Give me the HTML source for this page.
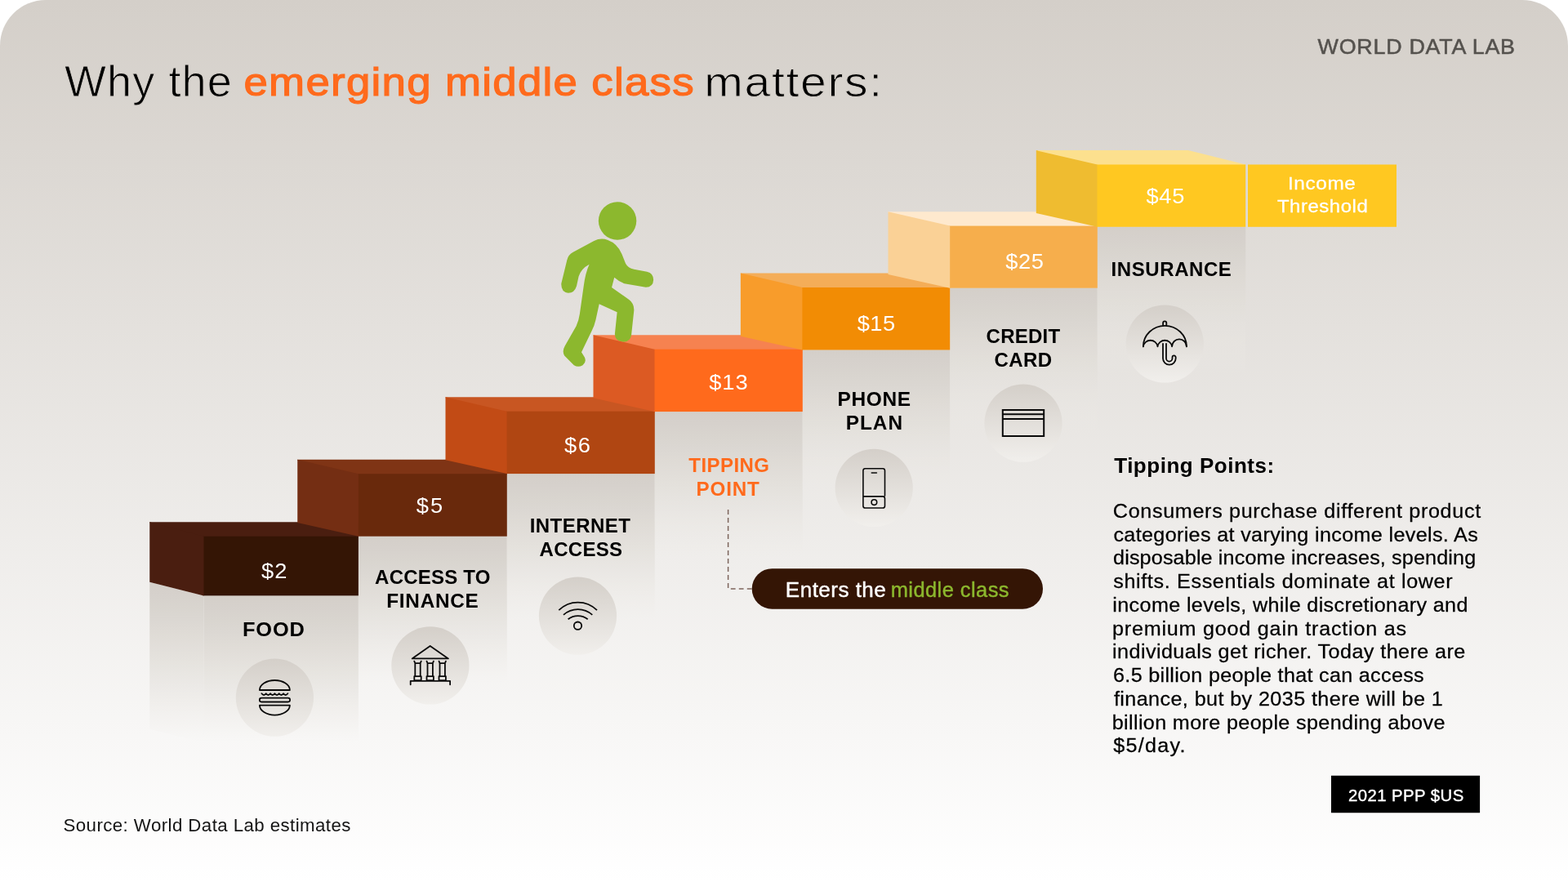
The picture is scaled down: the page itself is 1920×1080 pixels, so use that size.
<!DOCTYPE html>
<html lang="en"><head><meta charset="utf-8"><title>Why the emerging middle class matters</title>
<style>
html,body{margin:0;padding:0;background:#fff;}
body{width:1920px;height:1080px;overflow:hidden;}
svg{display:block;}
text{font-family:"Liberation Sans",sans-serif;white-space:pre;}
</style></head><body>
<svg width="1920" height="1080" viewBox="0 0 1920 1080" role="img" aria-label="Why the emerging middle class matters">
<defs>

<linearGradient id="bg" x1="0" y1="0" x2="0" y2="1"><stop offset="0" stop-color="#d4cfc9"/><stop offset="1" stop-color="#ffffff"/></linearGradient>
<linearGradient id="col" x1="0" y1="0" x2="0" y2="1"><stop offset="0.0000" stop-color="#d4cfc9" stop-opacity="1.0000"/><stop offset="0.0833" stop-color="#d6d1cc" stop-opacity="0.9931"/><stop offset="0.1667" stop-color="#d8d4ce" stop-opacity="0.9722"/><stop offset="0.2500" stop-color="#dad6d1" stop-opacity="0.9375"/><stop offset="0.3333" stop-color="#ddd9d3" stop-opacity="0.8889"/><stop offset="0.4167" stop-color="#dfdbd6" stop-opacity="0.8264"/><stop offset="0.5000" stop-color="#e1ded8" stop-opacity="0.7500"/><stop offset="0.5833" stop-color="#e3e0db" stop-opacity="0.6597"/><stop offset="0.6667" stop-color="#e5e2de" stop-opacity="0.5556"/><stop offset="0.7500" stop-color="#e8e5e0" stop-opacity="0.4375"/><stop offset="0.8333" stop-color="#eae7e3" stop-opacity="0.3056"/><stop offset="0.9167" stop-color="#eceae5" stop-opacity="0.1597"/><stop offset="1.0000" stop-color="#eeece8" stop-opacity="0.0000"/></linearGradient>
<linearGradient id="bgu" gradientUnits="userSpaceOnUse" x1="0" y1="0" x2="0" y2="1080"><stop offset="0" stop-color="#d4cfc9"/><stop offset="1" stop-color="#ffffff"/></linearGradient>
<linearGradient id="circ" x1="0" y1="0" x2="0" y2="1"><stop offset="0" stop-color="#d4cfc9"/><stop offset="1" stop-color="#f1efec"/></linearGradient>
</defs>
<path d="M0,1080 V56 A56,56 0 0 1 56,0 H1864 A56,56 0 0 1 1920,56 V1080 Z" fill="url(#bg)"/>
<polygon points="183.25,712.65 249.5,729.4 249.5,909.4 183.25,892.65" fill="url(#col)"/>
<rect x="249.5" y="729.4" width="189.40" height="180" fill="url(#col)"/>
<rect x="438.9" y="656.75" width="181.90" height="180" fill="url(#col)"/>
<rect x="620.6" y="580.1" width="181.20" height="180" fill="url(#col)"/>
<rect x="801.5" y="504.1" width="181.30" height="180" fill="url(#col)"/>
<rect x="982.4" y="428.5" width="180.80" height="180" fill="url(#col)"/>
<rect x="1163.2" y="352.7" width="180.60" height="180" fill="url(#col)"/>
<rect x="1343.5" y="277.8" width="181.75" height="180" fill="url(#col)"/>
<polygon points="183.25,639.35 367.25,639.35 438.9,653.75 438.9,657.75 249.5,657.75 183.25,640.35" fill="#4a1e10"/>
<rect x="248.5" y="656.75" width="190.40" height="72.65" fill="#341505"/>
<polygon points="183.25,639.35 249.5,656.75 249.5,729.4 183.25,712.65" fill="#4a1e10"/>
<polygon points="364.25,562.80 548.5,562.80 620.8,577.2 620.8,581.2 438.9,581.2 364.25,563.80" fill="#7f3415"/>
<rect x="437.9" y="580.2" width="182.90" height="76.55" fill="#69290c"/>
<polygon points="364.25,562.80 438.9,580.2 438.9,656.75 364.25,640.00" fill="#742e13"/>
<polygon points="545.5,486.30 729.5,486.30 801.8,500.7 801.8,504.7 620.6,504.7 545.5,487.30" fill="#c85622"/>
<rect x="619.6" y="503.7" width="182.20" height="76.40" fill="#b04612"/>
<polygon points="545.5,486.30 620.6,503.7 620.6,580.1 545.5,563.35" fill="#c24b15"/>
<polygon points="726.5,410.30 909.9,410.30 982.8,424.7 982.8,428.7 801.5,428.7 726.5,411.30" fill="#f68250"/>
<rect x="800.5" y="427.7" width="182.30" height="76.40" fill="#ff6a1c"/>
<polygon points="726.5,410.30 801.5,427.7 801.5,504.1 726.5,487.35" fill="#dc5a23"/>
<polygon points="906.9,334.60 1090.5,334.60 1163.2,349.0 1163.2,353.0 982.4,353.0 906.9,335.60" fill="#f4ad58"/>
<rect x="981.4" y="352.0" width="181.80" height="76.50" fill="#f28c04"/>
<polygon points="906.9,334.60 982.4,352.0 982.4,428.5 906.9,411.75" fill="#f89c2b"/>
<polygon points="1087.5,259.20 1271.8,259.20 1343.8,273.6 1343.8,277.6 1163.2,277.6 1087.5,260.20" fill="#fee9ce"/>
<rect x="1162.2" y="276.6" width="181.60" height="76.10" fill="#f6ae4c"/>
<polygon points="1087.5,259.20 1163.2,276.6 1163.2,352.7 1087.5,335.95" fill="#fad196"/>
<polygon points="1268.8,184.10 1455,184.10 1525.25,201.5 1525.25,202.5 1343.5,202.5 1268.8,185.10" fill="#fce08e"/>
<rect x="1342.5" y="201.5" width="182.75" height="76.30" fill="#ffc821"/>
<polygon points="1268.8,184.10 1343.5,201.5 1343.5,277.8 1268.8,261.05" fill="#efbc30"/>
<rect x="1528" y="201.5" width="182" height="76.3" fill="#ffc821"/>
<g fill="#8cb82e" transform="translate(640,230) scale(0.21297)">
<circle cx="545" cy="190" r="109"/>
<path d="M410,305 Q450,285 490,300 Q545,320 570,380 L592,435 Q605,460 640,468 L715,482 Q752,490 752,530 Q750,572 708,572 L585,550 Q555,540 527,515 L512,573 L612,643 Q642,665 640,705 L625,845 Q618,887 578,885 Q530,880 530,840 L543,715 L440,668 L420,760 Q412,795 398,820 L338,945 L355,972 Q370,1000 345,1020 Q320,1035 295,1020 L240,965 Q225,940 243,908 L308,795 Q322,765 328,725 L350,570 Q360,490 383,440 Q335,465 322,510 L310,565 Q298,605 262,605 Q220,600 222,550 L255,415 Q262,385 290,370 Z"/>
</g>
<path d="M891.6,624.1 V720.9 H922" fill="none" stroke="#7d655c" stroke-width="1.5" stroke-dasharray="5.8 4.2"/>
<rect x="920.7" y="696.2" width="356.3" height="49.5" rx="24.75" fill="#341505"/>
<rect x="1630" y="949.75" width="182.1" height="45.5" fill="#000"/>
<circle cx="336.4" cy="854.2" r="47.6" fill="url(#circ)"/>
<g transform="translate(336.4,854.2)" fill="none" stroke="#0a0a0a" stroke-width="1.8" stroke-linecap="round" stroke-linejoin="round">
<path d="M-18.5,-9.2 A18.5,12 0 0 1 18.5,-9.2 Z"/>
<path d="M-16,-5 q2.67,3.6 5.33,0 q2.67,3.6 5.33,0 q2.67,3.6 5.33,0 q2.67,3.6 5.33,0 q2.67,3.6 5.33,0 q2.67,3.6 5.33,0"/>
<rect x="-18.6" y="0.5" width="37.3" height="4.8" rx="2.4"/>
<path d="M-18.5,9.4 H18.5 A18.5,12 0 0 1 -18.5,9.4 Z"/>
</g>
<circle cx="526.9" cy="814.9" r="47.6" fill="url(#circ)"/>
<g transform="translate(526.9,814.9)" fill="none" stroke="#0a0a0a" stroke-width="1.8" stroke-linecap="round" stroke-linejoin="round">
<path d="M-0.2,-24 L22,-8.5 H-22.2 Z"/>
<path d="M-19.6,-5.2 L-18.6,-2.8 V13.2 M-11.2,-5.2 L-12.2,-2.8 V13.2 M-18.6,-2.8 H-12.2"/>
<rect x="-19.6" y="13.2" width="8.4" height="5"/>
<path d="M-4.4,-5.2 L-3.4000000000000004,-2.8 V13.2 M4.0,-5.2 L3.0,-2.8 V13.2 M-3.4000000000000004,-2.8 H3.0"/>
<rect x="-4.4" y="13.2" width="8.4" height="5"/>
<path d="M10.600000000000001,-5.2 L11.600000000000001,-2.8 V13.2 M19.0,-5.2 L18.0,-2.8 V13.2 M11.600000000000001,-2.8 H18.0"/>
<rect x="10.600000000000001" y="13.2" width="8.4" height="5"/>
<path d="M-24.2,23.4 V18.9 H24.2 V23.4"/>
</g>
<circle cx="707.5" cy="754.2" r="47.6" fill="url(#circ)"/>
<g transform="translate(707.5,754.2)" fill="none" stroke="#0a0a0a" stroke-width="1.8" stroke-linecap="round" stroke-linejoin="round">
<path stroke-linecap="butt" d="M-23.2,-7 A33.2,33.2 0 0 1 23.5,-7"/>
<path stroke-linecap="butt" d="M-17.5,-1.4 A26.4,26.4 0 0 1 17.8,-1.4"/>
<path stroke-linecap="butt" d="M-11.9,4.1 A19.2,19.2 0 0 1 12.2,4.1"/>
<circle cx="0" cy="12" r="4.7"/>
</g>
<circle cx="1070.2" cy="597.4" r="47.6" fill="url(#circ)"/>
<g transform="translate(1070.2,597.4)" fill="none" stroke="#0a0a0a" stroke-width="1.8" stroke-linecap="round" stroke-linejoin="round">
<path stroke-width="1.6" d="M-13.3,10.5 V-21.1 a2.6,2.6 0 0 1 2.6,-2.6 H10.7 a2.6,2.6 0 0 1 2.6,2.6 V9.6 M-13.3,10.5 H10.7 a2.6,2.6 0 0 1 2.6,2.6 V22 a2.6,2.6 0 0 1 -2.6,2.6 H-10.7 a2.6,2.6 0 0 1 -2.6,-2.6 Z M-2.9,-18.4 H3.2"/>
<circle cx="0.2" cy="17.7" r="3.3" stroke-width="1.6"/>
</g>
<circle cx="1253" cy="518.2" r="47.6" fill="url(#circ)"/>
<g transform="translate(1253,518.2)" fill="none" stroke="#0a0a0a" stroke-width="2">
<rect x="-25.2" y="-16.2" width="50.4" height="32"/>
<path d="M-25.2,-11 H25.2 M-25.2,-5.3 H25.2"/>
</g>
<circle cx="1426.3" cy="421" r="47.6" fill="url(#circ)"/>
<g transform="translate(1426.3,421)" fill="none" stroke="#0a0a0a" stroke-width="1.8" stroke-linecap="round" stroke-linejoin="round">
<path d="M-26.4,3.3 A26.5,25.5 0 0 1 26.6,3.3"/>
<path d="M-26.4,3.3 A8.9,8.9 0 0 1 -8.8,3.3 A8.9,8.9 0 0 1 8.8,3.3 A8.9,8.9 0 0 1 26.6,3.3"/>
<path d="M-2.3,-0.2 V17.8 A7.85,7.85 0 0 0 13.4,17.8 V16.5 A2.1,2.1 0 0 0 9.2,16.5 V17.8 A3.75,3.75 0 0 1 1.7,17.8 V-0.2"/>
<path d="M-2.2,-23 V-25.5 A2.1,2.1 0 0 1 2,-25.5 V-23"/>
</g>
<text transform="translate(78.95,117.70)" fill="#000" style="font-size:54px;font-weight:400;letter-spacing:1.133px;stroke:url(#bgu);stroke-width:0.9px">Why the</text>
<text transform="translate(298.45,116.80) scale(1.1,1)" fill="#ff6a1c" style="font-size:48px;font-weight:400;letter-spacing:1.188px;stroke:#ff6a1c;stroke-width:1.2px">emerging middle class</text>
<text transform="translate(862.35,117.60) scale(1.12,1)" fill="#000" style="font-size:51px;font-weight:400;letter-spacing:1.470px;stroke:url(#bgu);stroke-width:0.9px">matters:</text>
<text transform="translate(1613.60,66.00) scale(1.034,1)" fill="#55524e" style="font-size:26px;font-weight:400;letter-spacing:0.703px;stroke:#55524e;stroke-width:0.5px">WORLD DATA LAB</text>
<text transform="translate(320.00,708.20) scale(1.05,1)" fill="#fff" style="font-size:26px;font-weight:400;letter-spacing:1.143px;">$2</text>
<text transform="translate(509.80,628.00) scale(1.05,1)" fill="#fff" style="font-size:26px;font-weight:400;letter-spacing:1.905px;">$5</text>
<text transform="translate(691.10,553.70) scale(1.05,1)" fill="#fff" style="font-size:26px;font-weight:400;letter-spacing:1.523px;">$6</text>
<text transform="translate(868.20,477.00) scale(1.05,1)" fill="#fff" style="font-size:26px;font-weight:400;letter-spacing:0.952px;">$13</text>
<text transform="translate(1049.65,405.00) scale(1.05,1)" fill="#fff" style="font-size:26px;font-weight:400;letter-spacing:0.524px;">$15</text>
<text transform="translate(1231.35,328.70) scale(1.05,1)" fill="#fff" style="font-size:26px;font-weight:400;letter-spacing:0.524px;">$25</text>
<text transform="translate(1403.45,248.70) scale(1.05,1)" fill="#fff" style="font-size:26px;font-weight:400;letter-spacing:0.714px;">$45</text>
<text transform="translate(1577.00,232.00) scale(1.082,1)" fill="#fff" style="font-size:22.5px;font-weight:400;letter-spacing:0.560px;stroke:#fff;stroke-width:0.3px">Income</text>
<text transform="translate(1563.88,259.50) scale(1.066,1)" fill="#fff" style="font-size:22.5px;font-weight:400;letter-spacing:0.502px;stroke:#fff;stroke-width:0.3px">Threshold</text>
<text transform="translate(297.00,778.75) scale(1.058,1)" fill="#000" style="font-size:24px;font-weight:700;letter-spacing:0.788px;">FOOD</text>
<text transform="translate(459.12,715.00)" fill="#000" style="font-size:24px;font-weight:700;letter-spacing:0.218px;">ACCESS TO</text>
<text transform="translate(473.25,743.75) scale(1.013,1)" fill="#000" style="font-size:24px;font-weight:700;letter-spacing:0.740px;">FINANCE</text>
<text transform="translate(648.65,651.90)" fill="#000" style="font-size:24px;font-weight:700;letter-spacing:0.471px;">INTERNET</text>
<text transform="translate(660.60,680.80)" fill="#000" style="font-size:24px;font-weight:700;letter-spacing:0.280px;">ACCESS</text>
<text transform="translate(843.30,577.50)" fill="#ff6a1c" style="font-size:24px;font-weight:700;letter-spacing:0.433px;">TIPPING</text>
<text transform="translate(852.60,606.50) scale(1.008,1)" fill="#ff6a1c" style="font-size:24px;font-weight:700;letter-spacing:0.793px;">POINT</text>
<text transform="translate(1025.45,497.00) scale(1.02,1)" fill="#000" style="font-size:24px;font-weight:700;letter-spacing:0.661px;">PHONE</text>
<text transform="translate(1035.80,526.20) scale(1.018,1)" fill="#000" style="font-size:24px;font-weight:700;letter-spacing:0.916px;">PLAN</text>
<text transform="translate(1207.62,420.00)" fill="#000" style="font-size:24px;font-weight:700;letter-spacing:0.250px;">CREDIT</text>
<text transform="translate(1217.62,448.75)" fill="#000" style="font-size:24px;font-weight:700;letter-spacing:0.417px;">CARD</text>
<text transform="translate(1360.60,337.50)" fill="#000" style="font-size:24px;font-weight:700;letter-spacing:0.575px;">INSURANCE</text>
<text transform="translate(961.85,731.00) scale(1.042,1)" fill="#fff" style="font-size:25px;font-weight:400;letter-spacing:0.453px;stroke:#fff;stroke-width:0.4px">Enters the</text>
<text transform="translate(1090.65,731.00) scale(1.017,1)" fill="#8cb82e" style="font-size:25px;font-weight:400;letter-spacing:0.455px;stroke:#8cb82e;stroke-width:0.4px">middle class</text>
<text transform="translate(1364.20,579.00)" fill="#000" style="font-size:26px;font-weight:700;letter-spacing:0.515px;">Tipping Points:</text>
<text transform="translate(1650.88,981.00) scale(1.016,1)" fill="#fff" style="font-size:20px;font-weight:400;letter-spacing:0.450px;stroke:#fff;stroke-width:0.4px">2021 PPP $US</text>
<text transform="translate(77.52,1018.10) scale(1.012,1)" fill="#141414" style="font-size:22px;font-weight:400;letter-spacing:0.425px;">Source: World Data Lab estimates</text>
<text transform="translate(1362.85,633.75) scale(1.05,1)" fill="#000" style="font-size:24px;font-weight:400;letter-spacing:0.608px;stroke:#000;stroke-width:0.25px">Consumers purchase different product</text>
<text transform="translate(1363.38,662.50) scale(1.05,1)" fill="#000" style="font-size:24px;font-weight:400;letter-spacing:0.312px;stroke:#000;stroke-width:0.25px">categories at varying income levels. As</text>
<text transform="translate(1363.05,691.25) scale(1.05,1)" fill="#000" style="font-size:24px;font-weight:400;letter-spacing:0.120px;stroke:#000;stroke-width:0.25px">disposable income increases, spending</text>
<text transform="translate(1363.15,720.00) scale(1.05,1)" fill="#000" style="font-size:24px;font-weight:400;letter-spacing:0.602px;stroke:#000;stroke-width:0.25px">shifts. Essentials dominate at lower</text>
<text transform="translate(1362.35,748.75) scale(1.05,1)" fill="#000" style="font-size:24px;font-weight:400;letter-spacing:0.318px;stroke:#000;stroke-width:0.25px">income levels, while discretionary and</text>
<text transform="translate(1362.00,777.50) scale(1.05,1)" fill="#000" style="font-size:24px;font-weight:400;letter-spacing:0.722px;stroke:#000;stroke-width:0.25px">premium good gain traction as</text>
<text transform="translate(1362.05,806.25) scale(1.05,1)" fill="#000" style="font-size:24px;font-weight:400;letter-spacing:0.389px;stroke:#000;stroke-width:0.25px">individuals get richer. Today there are</text>
<text transform="translate(1363.05,835.00) scale(1.05,1)" fill="#000" style="font-size:24px;font-weight:400;letter-spacing:0.276px;stroke:#000;stroke-width:0.25px">6.5 billion people that can access</text>
<text transform="translate(1363.90,863.75) scale(1.05,1)" fill="#000" style="font-size:24px;font-weight:400;letter-spacing:0.372px;stroke:#000;stroke-width:0.25px">finance, but by 2035 there will be 1</text>
<text transform="translate(1361.70,892.50) scale(1.05,1)" fill="#000" style="font-size:24px;font-weight:400;letter-spacing:0.330px;stroke:#000;stroke-width:0.25px">billion more people spending above</text>
<text transform="translate(1363.20,921.25) scale(1.05,1)" fill="#000" style="font-size:24px;font-weight:400;letter-spacing:1.181px;stroke:#000;stroke-width:0.25px">$5/day.</text>
</svg>
</body></html>
